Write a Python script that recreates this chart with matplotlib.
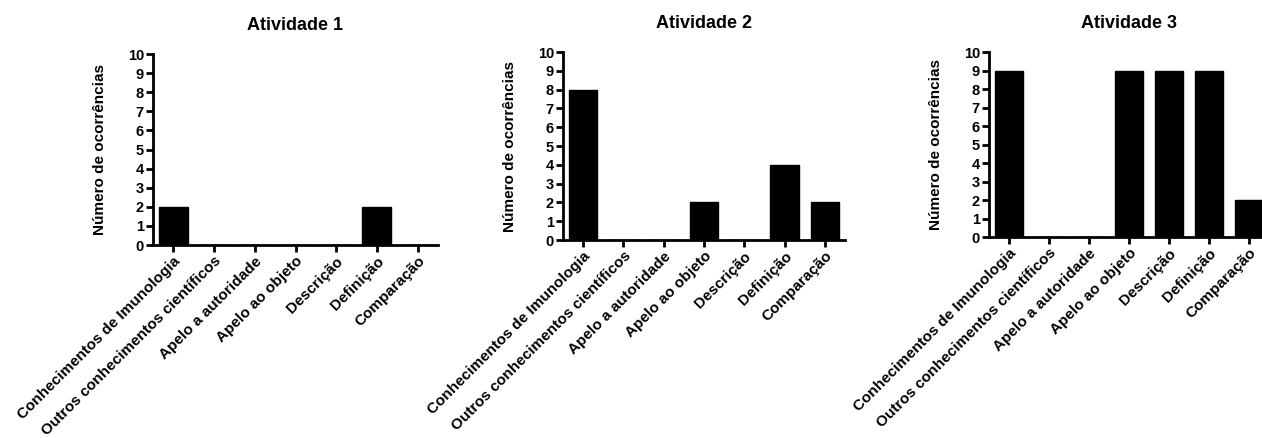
import matplotlib
matplotlib.use("Agg")
import matplotlib.pyplot as plt

categories = ["Conhecimentos de Imunologia", "Outros conhecimentos científicos",
              "Apelo a autoridade", "Apelo ao objeto", "Descrição", "Definição",
              "Comparação"]
titles = ["Atividade 1", "Atividade 2", "Atividade 3"]
atividade1 = [2, 0, 0, 0, 0, 2, 0]
atividade2 = [8, 0, 0, 2, 0, 4, 2]
atividade3 = [9, 0, 0, 9, 9, 9, 2]
series = [atividade1, atividade2, atividade3]
yticks = list(range(0, 11))

plt.rcParams['font.family'] = ['Liberation Sans', 'DejaVu Sans']
plt.rcParams['font.weight'] = 'bold'

W, H = 1262, 438
fig = plt.figure(figsize=(W / 100, H / 100), dpi=100)

# axes boxes in pixels: left, right, bottom(y of 0), top(y of 10), title y
boxes = [(153, 438, 245, 54, 25), (563, 845, 240, 52, 23), (989, 1269, 237, 52, 23)]

for (l, r, b, t, ty), vals, title in zip(boxes, series, titles):
    ax = fig.add_axes([l / W, 1 - b / H, (r - l) / W, (b - t) / H])
    x = list(range(len(categories)))
    ax.bar(x, vals, width=0.71, color='black', edgecolor='black', linewidth=1)
    ax.set_xlim(-0.5, 6.5)
    ax.set_ylim(0, 10)
    ax.set_yticks(yticks)
    ax.set_yticklabels([str(v) for v in yticks], fontsize=10.5, fontweight='bold')
    ax.set_xticks(x)
    ax.set_xticklabels(categories, rotation=45, ha='right', rotation_mode='anchor',
                       fontsize=11, fontweight='bold')
    for s in ['top', 'right']:
        ax.spines[s].set_visible(False)
    for s in ['left', 'bottom']:
        ax.spines[s].set_linewidth(2)
    ax.tick_params(axis='both', width=2, length=5, pad=1.5, direction='out')
    ax.set_ylabel("Número de ocorrências", fontsize=11, fontweight='bold', labelpad=15)
    fig.text((l + 20 + 3 * (r - l) / 7) / W, 1 - ty / H,
             title, fontsize=13, fontweight='bold', ha='center', va='center')

fig.savefig("out.png", dpi=100)
